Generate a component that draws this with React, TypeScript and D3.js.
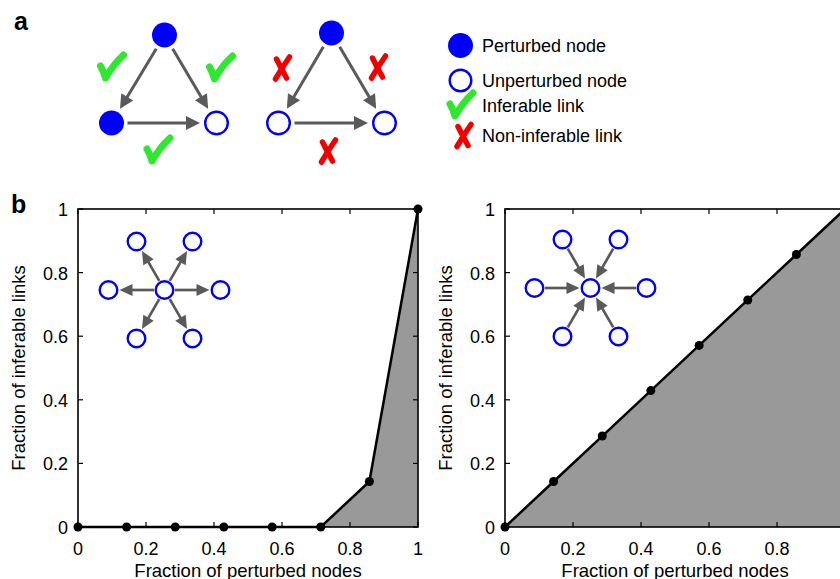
import * as d3 from 'd3';
import * as React from 'react';

// fraction of perturbed nodes (k/7) and the resulting fraction of inferable links
const fractionPerturbed = [0, 0.143, 0.286, 0.429, 0.571, 0.714, 0.857, 1];
const outStarInferable = [0, 0, 0, 0, 0, 0, 0.143, 1];
const inStarInferable = [0, 0.143, 0.286, 0.429, 0.571, 0.714, 0.857, 1];
const axisTicks = [0, 0.2, 0.4, 0.6, 0.8, 1];
const tickLabels = ['0', '0.2', '0.4', '0.6', '0.8', '1'];

const legendItems = ['Perturbed node', 'Unperturbed node', 'Inferable link', 'Non-inferable link'];
const starAngles = [0, 60, 120, 180, 240, 300];

const FONT = '"Liberation Sans", Arial, Helvetica, sans-serif';
const BLUE = '#0000ff';
const ARROW = '#5a5a5a';
const GREEN = '#2ee82e';
const RED = '#f00000';

interface ArrowProps {
  x1: number; y1: number; x2: number; y2: number;
  gap1: number; gap2: number; head: number; headW: number; width: number;
}

const Arrow = ({ x1, y1, x2, y2, gap1, gap2, head, headW, width }: ArrowProps) => {
  const dx = x2 - x1;
  const dy = y2 - y1;
  const len = Math.hypot(dx, dy);
  const ux = dx / len;
  const uy = dy / len;
  const sx = x1 + ux * gap1;
  const sy = y1 + uy * gap1;
  const tx = x2 - ux * gap2;
  const ty = y2 - uy * gap2;
  const bx = tx - ux * head;
  const by = ty - uy * head;
  const px = -uy * headW / 2;
  const py = ux * headW / 2;
  return (
    <g>
      <line x1={sx} y1={sy} x2={bx + ux} y2={by + uy} stroke={ARROW} strokeWidth={width} />
      <polygon points={`${tx},${ty} ${bx + px},${by + py} ${bx - px},${by - py}`} fill={ARROW} />
    </g>
  );
};

const Check = ({ x, y }: { x: number; y: number }) => (
  <path
    transform={`translate(${x},${y})`}
    d="M-11,-1 Q-8,4 -6,11 Q2,-3 12,-12"
    fill="none" stroke={GREEN} strokeWidth={7} strokeLinecap="round" strokeLinejoin="round"
  />
);

const Cross = ({ x, y }: { x: number; y: number }) => (
  <g transform={`translate(${x},${y})`} fill="none" stroke={RED} strokeWidth={5.5} strokeLinecap="round">
    <path d="M8,-11 Q1,-1 -6,11" />
    <path d="M-5,-9 Q0,1 5,10" />
  </g>
);

const Node = ({ x, y, r, filled }: { x: number; y: number; r: number; filled: boolean }) =>
  filled
    ? <circle cx={x} cy={y} r={r} fill={BLUE} />
    : <circle cx={x} cy={y} r={r - 1.2} fill="white" stroke={BLUE} strokeWidth={2.4} />;

const Triangle = ({ top, left, right, perturbed, inferable }:
  { top: [number, number]; left: [number, number]; right: [number, number]; perturbed: boolean[]; inferable: boolean }) => {
  const a = { gap1: 16, gap2: 16.5, head: 14, headW: 14, width: 3 };
  const marks: [number, number][] = inferable
    ? [[top[0] - 53, top[1] + 32], [top[0] + 56, top[1] + 33], [(left[0] + right[0]) / 2 - 6, left[1] + 27]]
    : [[top[0] - 50, top[1] + 35], [top[0] + 46, top[1] + 34], [(left[0] + right[0]) / 2 - 4, left[1] + 28]];
  const Mark = inferable ? Check : Cross;
  return (
    <g>
      <Arrow x1={top[0]} y1={top[1]} x2={left[0]} y2={left[1]} {...a} />
      <Arrow x1={top[0]} y1={top[1]} x2={right[0]} y2={right[1]} {...a} />
      <Arrow x1={left[0]} y1={left[1]} x2={right[0]} y2={right[1]} {...a} />
      <Node x={top[0]} y={top[1]} r={12.5} filled={perturbed[0]} />
      <Node x={left[0]} y={left[1]} r={12.5} filled={perturbed[1]} />
      <Node x={right[0]} y={right[1]} r={12.5} filled={perturbed[2]} />
      {marks.map((m, i) => <Mark key={i} x={m[0]} y={m[1]} />)}
    </g>
  );
};

const Star = ({ cx, cy, outward }: { cx: number; cy: number; outward: boolean }) => {
  const R = 56;
  const a = { gap1: 10.5, gap2: 11, head: 13, headW: 12, width: 2.7 };
  return (
    <g>
      {starAngles.map(deg => {
        const t = (deg * Math.PI) / 180;
        const x = cx + R * Math.cos(t);
        const y = cy - R * Math.sin(t);
        return (
          <g key={deg}>
            {outward
              ? <Arrow x1={cx} y1={cy} x2={x} y2={y} {...a} />
              : <Arrow x1={x} y1={y} x2={cx} y2={cy} {...a} />}
            <Node x={x} y={y} r={10} filled={false} />
          </g>
        );
      })}
      <Node x={cx} y={cy} r={10} filled={false} />
    </g>
  );
};

const Plot = ({ left, values, children }: { left: number; values: number[]; children?: React.ReactNode }) => {
  const x = d3.scaleLinear().domain([0, 1]).range([left, left + 340]);
  const y = d3.scaleLinear().domain([0, 1]).range([527, 209]);
  const pts = fractionPerturbed.map((f, i) => [f, values[i]] as [number, number]);
  const area = d3.area<[number, number]>().x(d => x(d[0])).y0(y(0)).y1(d => y(d[1]))(pts) || '';
  const line = d3.line<[number, number]>().x(d => x(d[0])).y(d => y(d[1]))(pts) || '';
  const tl = 5;
  return (
    <g fontFamily={FONT} fontSize={18}>
      <path d={area} fill="#999999" />
      <rect x={x(0)} y={y(1)} width={x(1) - x(0)} height={y(0) - y(1)} fill="none" stroke="black" strokeWidth={1.6} />
      {axisTicks.map(t => (
        <g key={t} stroke="black" strokeWidth={1.2}>
          <line x1={x(t)} x2={x(t)} y1={y(0)} y2={y(0) - tl} />
          <line x1={x(t)} x2={x(t)} y1={y(1)} y2={y(1) + tl} />
          <line x1={x(0)} x2={x(0) + tl} y1={y(t)} y2={y(t)} />
          <line x1={x(1)} x2={x(1) - tl} y1={y(t)} y2={y(t)} />
        </g>
      ))}
      <path d={line} fill="none" stroke="black" strokeWidth={2.5} />
      {pts.map((d, i) => <circle key={i} cx={x(d[0])} cy={y(d[1])} r={4.5} fill="black" />)}
      {axisTicks.map((t, i) => (
        <text key={`x${t}`} x={x(t)} y={555} textAnchor="middle">{tickLabels[i]}</text>
      ))}
      {axisTicks.map((t, i) => (
        <text key={`y${t}`} x={x(0) - 10} y={y(t) + 7} textAnchor="end">{tickLabels[i]}</text>
      ))}
      <text x={(x(0) + x(1)) / 2} y={577} textAnchor="middle" fontSize={18.5}>Fraction of perturbed nodes</text>
      <text transform={`translate(${x(0) - 53},${(y(0) + y(1)) / 2}) rotate(-90)`} textAnchor="middle" fontSize={18.5}>
        Fraction of inferable links
      </text>
      {children}
    </g>
  );
};

export default function App() {
  const legendY = [45.5, 80.5, 105, 135.5];
  return (
    <svg width={840} height={579} style={{ position: 'absolute', left: 0, top: 0, background: 'white' }}>
      <text x={14} y={30} fontFamily={FONT} fontSize={25} fontWeight="bold">a</text>
      <text x={11} y={213} fontFamily={FONT} fontSize={25} fontWeight="bold">b</text>

      <Triangle top={[164.5, 35]} left={[111.5, 123]} right={[216.5, 123]} perturbed={[true, true, false]} inferable />
      <Triangle top={[331.5, 33]} left={[278.5, 123]} right={[384.5, 123]} perturbed={[true, false, false]} inferable={false} />

      <g fontFamily={FONT} fontSize={18}>
        <Node x={460.5} y={legendY[0]} r={12.5} filled />
        <Node x={460.5} y={legendY[1]} r={12} filled={false} />
        <Check x={461} y={legendY[2]} />
        <Cross x={463} y={legendY[3]} />
        {legendItems.map((t, i) => (
          <text key={t} x={482} y={legendY[i] + 6.5}>{t}</text>
        ))}
      </g>

      <Plot left={78} values={outStarInferable}>
        <Star cx={164.5} cy={290} outward />
      </Plot>
      <Plot left={505} values={inStarInferable}>
        <Star cx={590.5} cy={288} outward={false} />
      </Plot>
    </svg>
  );
}
